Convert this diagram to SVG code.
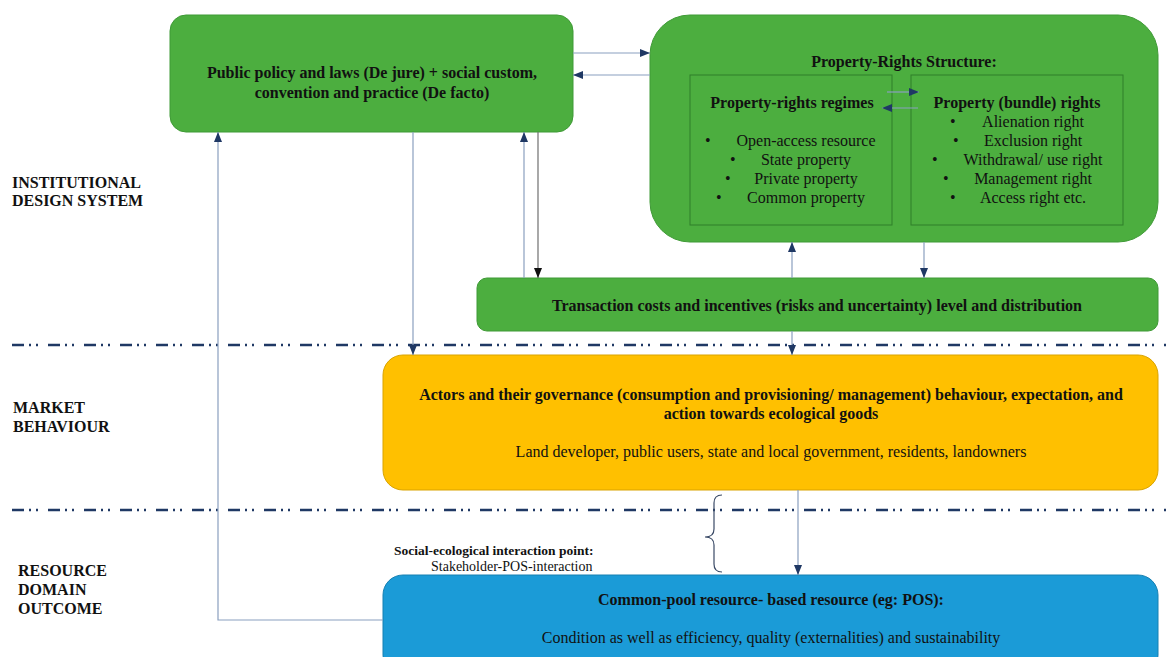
<svg xmlns="http://www.w3.org/2000/svg" width="1169" height="657" viewBox="0 0 1169 657" font-family="'Liberation Serif', 'Times New Roman', 'DejaVu Serif', serif">
<style>
text{font-family:"Liberation Serif","Times New Roman","DejaVu Serif",serif;fill:#111;}
.b{font-weight:bold;font-size:16px;}
.r{font-size:16px;}
.c{text-anchor:middle;}
.green{fill:#4cae3f;stroke:#3f9a36;stroke-width:1;}
.inner{fill:none;stroke:#2f7f2a;stroke-width:1;}
.yellow{fill:#ffc000;stroke:#d9a300;stroke-width:1;}
.blue{fill:#1b9bd7;stroke:#1680b2;stroke-width:1;}
.sep{stroke:#1f3864;stroke-width:2.5;stroke-dasharray:12 5 2 5 2 10;fill:none;}
.con{stroke:#8a9fbf;stroke-width:1.2;fill:none;marker-end:url(#ah);}
.cond{stroke:#6f6f6f;stroke-width:1.2;fill:none;marker-end:url(#ahk);}
.brace{stroke:#3a4a66;stroke-width:1.2;fill:none;}
</style>
<defs>
<marker id="ah" markerUnits="userSpaceOnUse" markerWidth="10" markerHeight="8" refX="10" refY="4" orient="auto"><path d="M0,0 L10,4 L0,8 z" fill="#1f3864"/></marker>
<marker id="ahk" markerUnits="userSpaceOnUse" markerWidth="10" markerHeight="8" refX="10" refY="4" orient="auto"><path d="M0,0 L10,4 L0,8 z" fill="#111"/></marker>
</defs>
<rect width="1169" height="657" fill="#fff"/>

<g id="separators">
<line class="sep" x1="12" y1="345" x2="1166" y2="345"/>
<line class="sep" x1="12" y1="510" x2="1166" y2="510"/>
</g>

<g id="labels">
<text class="b" x="12" y="188">INSTITUTIONAL</text>
<text class="b" x="12" y="206">DESIGN SYSTEM</text>
<text class="b" x="13" y="413">MARKET</text>
<text class="b" x="13" y="432">BEHAVIOUR</text>
<text class="b" x="18" y="576">RESOURCE</text>
<text class="b" x="18" y="595">DOMAIN</text>
<text class="b" x="18" y="614">OUTCOME</text>
</g>

<g id="node-policy">
<rect class="green" x="170" y="15" width="403" height="117" rx="16"/>
<text class="b c" x="372" y="78">Public policy and laws (De jure) + social custom,</text>
<text class="b c" x="372" y="98">convention and practice (De facto)</text>
</g>

<g id="node-property-rights">
<rect class="green" x="650" y="15" width="508" height="227" rx="40"/>
<text class="b c" x="904" y="67">Property-Rights Structure:</text>
<g id="node-regimes">
<rect class="inner" x="690" y="75" width="202" height="150"/>
<text class="b c" x="792" y="108">Property-rights regimes</text>
<text class="r" x="705" y="146">•</text><text class="r c" x="806" y="146">Open-access resource</text>
<text class="r" x="730" y="165">•</text><text class="r c" x="806" y="165">State property</text>
<text class="r" x="725" y="184">•</text><text class="r c" x="806" y="184">Private property</text>
<text class="r" x="716" y="203">•</text><text class="r c" x="806" y="203">Common property</text>
</g>
<g id="node-bundle">
<rect class="inner" x="911" y="75" width="212" height="150"/>
<text class="b c" x="1017" y="108">Property (bundle) rights</text>
<text class="r" x="950" y="127">•</text><text class="r c" x="1033" y="127">Alienation right</text>
<text class="r" x="953" y="146">•</text><text class="r c" x="1033" y="146">Exclusion right</text>
<text class="r" x="932" y="165">•</text><text class="r c" x="1033" y="165">Withdrawal/ use right</text>
<text class="r" x="943" y="184">•</text><text class="r c" x="1033" y="184">Management right</text>
<text class="r" x="950" y="203">•</text><text class="r c" x="1033" y="203">Access right etc.</text>
</g>
</g>

<g id="node-transaction">
<rect class="green" x="477" y="278" width="681" height="53" rx="10"/>
<text class="b c" x="817" y="311">Transaction costs and incentives (risks and uncertainty) level and distribution</text>
</g>

<g id="node-actors">
<rect class="yellow" x="383" y="355" width="775" height="135" rx="20"/>
<text class="b c" x="771" y="400">Actors and their governance (consumption and provisioning/ management) behaviour, expectation, and</text>
<text class="b c" x="771" y="419">action towards ecological goods</text>
<text class="r c" x="771" y="457">Land developer, public users, state and local government, residents, landowners</text>
</g>

<g id="node-resource">
<rect class="blue" x="383" y="575" width="775" height="100" rx="20"/>
<text class="b c" x="771" y="605">Common-pool resource- based resource (eg: POS):</text>
<text class="r c" x="771" y="643">Condition as well as efficiency, quality (externalities) and sustainability</text>
</g>

<g id="node-interaction">
<text x="394" y="555" style="font-weight:bold;font-size:13.5px;">Social-ecological interaction point:</text>
<text x="431" y="571" style="font-size:14px;">Stakeholder-POS-interaction</text>
<path class="brace" d="M722,495 Q714,495 714,503 L714,529 Q714,537 705,537 Q714,537 714,545 L714,564 Q714,572 722,572"/>
</g>

<g id="connectors">
<line class="con" x1="573" y1="53" x2="650" y2="53"/>
<line class="con" x1="650" y1="75" x2="573" y2="75"/>
<line class="con" x1="887" y1="92" x2="919" y2="92"/>
<line class="con" x1="918" y1="108" x2="882" y2="108"/>
<line class="con" x1="413" y1="132" x2="413" y2="355"/>
<line class="con" x1="524" y1="278" x2="524" y2="132"/>
<line class="cond" x1="538" y1="132" x2="538" y2="278"/>
<line class="con" x1="792" y1="278" x2="792" y2="242"/>
<line class="con" x1="924" y1="242" x2="924" y2="278"/>
<line class="con" x1="792" y1="331" x2="792" y2="355"/>
<line class="con" x1="798" y1="490" x2="798" y2="575"/>
<polyline class="con" points="383,620 218,620 218,132"/>
</g>
</svg>
